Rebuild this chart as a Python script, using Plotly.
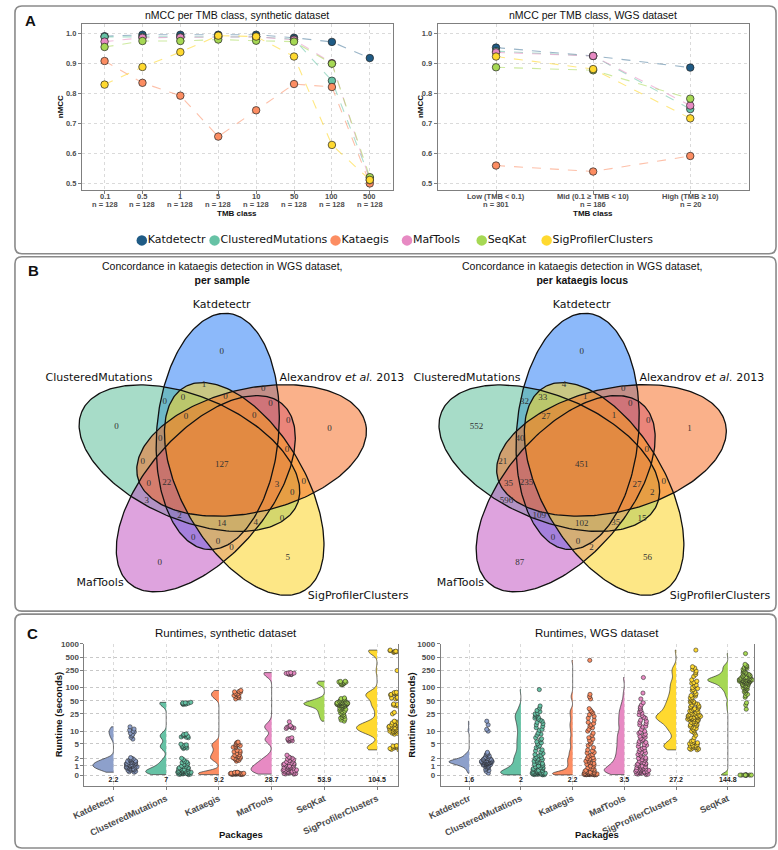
import numpy as np
import plotly.graph_objects as go

W, H = 778, 850

# ======================= DATA =======================
# ---- Panel A: nMCC per TMB class
tools = ["Katdetectr", "ClusteredMutations", "Kataegis", "MafTools", "SeqKat", "SigProfilerClusters"]

tmb_syn = ["0.1", "0.5", "1", "5", "10", "50", "100", "500"]
n_syn = [128, 128, 128, 128, 128, 128, 128, 128]
syn_katdetectr = [0.992, 0.997, 0.997, 0.997, 0.997, 0.987, 0.973, 0.919]
syn_clustered = [0.990, 0.990, 0.990, 0.990, 0.990, 0.982, 0.843, 0.517]
syn_kataegis = [0.909, 0.836, 0.793, 0.656, 0.744, 0.832, 0.822, 0.499]
syn_maftools = [0.974, 0.987, 0.988, 0.990, 0.990, 0.980, 0.902, 0.510]
syn_seqkat = [0.956, 0.976, 0.976, 0.981, 0.977, 0.974, 0.900, 0.520]
syn_sigprofiler = [0.830, 0.889, 0.939, 0.994, 0.991, 0.924, 0.628, 0.511]

tmb_wgs = ["Low (TMB < 0.1)", "Mid (0.1 \u2265 TMB < 10)", "High (TMB \u2265 10)"]
n_wgs = [301, 186, 20]
wgs_katdetectr = [0.954, 0.926, 0.887]
wgs_clustered = [0.942, 0.926, 0.748]
wgs_kataegis = [0.559, 0.539, 0.591]
wgs_maftools = [0.938, 0.926, 0.760]
wgs_seqkat = [0.888, 0.878, 0.783]
wgs_sigprofiler = [0.924, 0.882, 0.717]

# ---- Panel B: Venn diagrams (counts listed region by region)
venn_sets = ["Katdetectr", "Alexandrov <i>et al.</i> 2013", "SigProfilerClusters", "MafTools", "ClusteredMutations"]
venn_counts_sample = [0, 0, 0, 0, 5, 1, 0, 0, 0, 0, 0, 0, 0, 0, 0, 0, 0, 127, 0, 22,
                      3, 0, 0, 3, 2, 14, 4, 0, 0, 0, 0]
venn_counts_locus = [0, 552, 1, 87, 56, 4, 0, 32, 33, 1, 0, 27, 1, 0, 40, 0, 21, 451, 35, 235,
                     27, 0, 2, 596, 109, 102, 35, 15, 0, 0, 2]

# ---- Panel C: runtimes (seconds)
syn_packages = ["Katdetectr", "ClusteredMutations", "Kataegis", "MafTools", "SeqKat", "SigProfilerClusters"]
syn_means = [2.2, 7, 9.2, 28.7, 53.9, 104.5]
rt_syn_katdetectr = [0.3, 0.4, 0.5, 0.5, 0.6, 0.7, 0.7, 0.8, 0.8, 0.9, 0.9, 1.0, 1.0, 1.0, 1.1, 1.1, 1.2,
                     1.2, 1.3, 1.3, 1.4, 1.5, 1.5, 1.6, 1.7, 1.8, 1.9, 2.0, 2.1, 0.6, 0.9, 1.1, 1.4,
                     0.35, 0.55, 0.65, 0.75, 0.85, 0.95, 1.05, 1.15, 1.25, 1.35, 1.45, 1.55, 1.65, 1.75,
                     1.85, 6.5, 7.2, 7.8, 8.4, 9.0, 9.6, 10.0, 10.6, 11.2, 12.6]
rt_syn_clustered = [0.05, 0.1, 0.1, 0.15, 0.2, 0.2, 0.25, 0.3, 0.3, 0.35, 0.4, 0.45, 0.5, 0.5, 0.6, 0.7,
                    0.8, 0.9, 1.0, 1.1, 1.3, 1.5, 1.8, 2.0, 0.2, 0.4, 0.6, 0.3, 0.8, 1.2, 0.08, 0.12,
                    0.18, 0.22, 0.28, 0.33, 0.38, 0.42, 0.55, 0.65, 0.75, 0.95, 1.4, 1.6,
                    3.8, 3.9, 4.0, 4.2, 4.3, 4.4, 4.6, 4.7, 4.9, 7.0, 7.2, 7.3, 7.6, 7.8, 8.0, 8.3, 8.4,
                    8.6, 41, 42, 42.5, 43, 43.5, 44, 44.5, 45, 46]
rt_syn_kataegis = [0.05, 0.08, 0.1, 0.1, 0.12, 0.15, 0.15, 0.18, 0.2, 0.2, 0.22, 0.25, 0.3, 0.1, 0.15, 0.2,
                   0.06, 0.09, 0.11, 0.13, 0.16, 0.19, 0.21, 0.24, 0.27,
                   1.6, 1.7, 1.8, 1.95, 2.0, 2.1, 2.3, 2.4, 2.5, 2.6, 2.8, 3.0, 3.1, 3.3, 3.4, 1.9, 2.2,
                   4.0, 4.1, 4.3, 4.6, 4.8, 4.9, 5.2, 5.4, 5.5, 4.5,
                   55, 58, 60, 63, 65, 66, 70, 72, 74, 78, 80, 82, 86]
rt_syn_maftools = [0.1, 0.15, 0.2, 0.3, 0.3, 0.4, 0.5, 0.5, 0.6, 0.7, 0.8, 0.9, 1.0, 1.0, 1.1, 1.2, 1.4,
                   1.5, 1.6, 1.8, 2.0, 2.2, 2.5, 0.4, 0.8, 1.3, 0.2, 0.6, 0.12, 0.18, 0.25, 0.35, 0.45,
                   0.55, 0.65, 0.75, 0.85, 0.95, 1.15, 1.25, 1.35, 1.7, 1.9, 2.1,
                   5.8, 5.9, 6.1, 6.3, 6.4, 6.6, 6.7, 7.0, 11.5, 11.8, 12.0, 12.3, 12.5, 12.8, 13.0, 13.5,
                   16.5, 198, 200, 203, 206, 208, 212, 214, 216, 220]
rt_syn_seqkat = [17, 19, 21, 23, 25, 27, 28, 30, 32, 33, 35, 36, 37, 38, 39, 40, 41, 42, 42, 43, 43, 44,
                 44, 45, 46, 47, 48, 50, 52, 54, 56, 58, 40, 41, 43, 45, 18, 20, 22, 24, 26, 29, 31, 34,
                 38, 39, 40, 41, 42, 43, 44, 45, 46, 49, 51, 53, 55,
                 115, 118, 120, 122, 125, 128, 130, 133, 135, 138, 140]
rt_syn_sigprofiler = [3.5, 3.6, 3.7, 3.8, 3.9, 4.0, 4.1, 4.2, 4.3, 4.4, 4.5, 8.5, 8.8, 9.0, 9.2, 9.5, 9.8,
                      10, 10.2, 10.5, 10.8, 11, 11.2, 11.5, 11.8, 12, 12.2, 12.5, 12.8, 13, 13.2, 13.5,
                      13.8, 14, 14.5, 15, 15.5, 16, 16.5, 17, 10, 12, 14, 25, 27, 38, 39, 40, 41, 42,
                      55, 57, 58, 59, 60, 68, 69, 70, 71, 72, 74, 75, 77, 78,
                      245, 640, 650, 660, 670, 680, 690, 700, 710, 720]

wgs_packages = ["Katdetectr", "ClusteredMutations", "Kataegis", "MafTools", "SigProfilerClusters", "SeqKat"]
wgs_means = [1.6, 2, 2.2, 3.5, 27.2, 144.8]
rt_wgs_katdetectr = [0.2, 0.4, 0.6, 0.7, 0.8, 0.9, 1.0, 1.0, 1.1, 1.1, 1.2, 1.2, 1.3, 1.3, 1.3, 1.4, 1.4,
                     1.4, 1.5, 1.5, 1.5, 1.5, 1.5, 1.6, 1.6, 1.6, 1.6, 1.7, 1.7, 1.7, 1.8, 1.8, 1.9, 1.9,
                     2.0, 2.0, 2.1, 2.2, 2.3, 2.4, 2.5, 2.7, 3.0, 1.45, 1.55, 1.65, 1.35,
                     1.0, 1.1, 1.2, 1.3, 1.4, 1.5, 1.6, 1.7, 1.8, 1.9, 2.0, 2.2, 1.25, 1.35, 1.45, 1.55,
                     1.65, 1.75, 0.5, 0.85, 1.15, 2.6, 2.8, 10, 11, 14, 17]
rt_wgs_clustered = [0.02, 0.05, 0.08, 0.1, 0.1, 0.12, 0.15, 0.15, 0.2, 0.2, 0.25, 0.3, 0.3, 0.35, 0.4,
                    0.45, 0.5, 0.6, 0.7, 0.8, 0.9, 1.0, 1.1, 1.2, 1.4, 1.6, 1.8, 2.0, 2.2, 2.5, 2.8, 3.1,
                    3.5, 4.0, 4.5, 5.0, 5.6, 6.3, 7.0, 8.0, 9.0, 10.5, 12, 14, 16, 18, 20, 22, 24, 26,
                    30, 34, 38, 0.1, 0.2, 0.3, 0.5, 0.8, 1.5, 2.4,
                    0.05, 0.1, 0.15, 0.2, 0.3, 0.4, 0.6, 0.9, 1.3, 1.7, 2.1, 2.6, 3.3, 4.2, 5.3, 6.6,
                    8.5, 11, 13, 15, 17, 19, 21, 23, 25, 28, 0.25, 0.7, 1.0, 1.9, 90]
rt_wgs_kataegis = [0.02, 0.03, 0.05, 0.05, 0.07, 0.08, 0.1, 0.1, 0.1, 0.12, 0.12, 0.15, 0.15, 0.18, 0.2,
                   0.2, 0.25, 0.3, 0.35, 0.4, 0.5, 0.6, 0.7, 0.8, 1.0, 1.2, 1.4, 1.6, 1.8, 2.0, 2.3, 2.6,
                   3.0, 3.5, 4.0, 5.0, 6.0, 7.0, 8.0, 10, 12, 14, 16, 20, 24, 28, 33, 0.05, 0.1, 0.15,
                   0.2, 0.03, 0.06, 0.1, 0.14, 0.2, 0.28, 0.45, 0.65, 0.9, 1.1, 1.3, 1.5, 1.7, 1.9, 2.1,
                   2.5, 2.9, 3.3, 4.5, 5.5, 6.5, 9, 11, 13, 15, 18, 22, 26, 30, 55, 62, 70, 420]
rt_wgs_maftools = [0.05, 0.1, 0.15, 0.2, 0.25, 0.3, 0.35, 0.4, 0.45, 0.5, 0.55, 0.6, 0.7, 0.8, 0.9, 1.0,
                   1.1, 1.2, 1.3, 1.5, 1.7, 1.9, 2.1, 2.4, 2.7, 3.0, 3.4, 3.8, 4.3, 4.8, 5.4, 6.0, 6.8,
                   7.6, 8.5, 9.5, 11, 12.5, 14, 16, 18, 21, 24, 28, 33, 40, 45, 0.2, 0.4, 0.6, 0.9, 1.4,
                   2.0, 3.2, 0.1, 0.2, 0.3, 0.4, 0.5, 0.65, 0.75, 0.85, 1.05, 1.25, 1.6, 1.8, 2.2, 2.6,
                   2.9, 3.6, 4.0, 4.6, 5.1, 5.7, 6.4, 7.2, 8.0, 9.0, 10, 13, 15, 17, 20, 23, 26, 30, 36,
                   55, 75, 170]
rt_wgs_sigprofiler = [3.5, 3.7, 3.9, 4.1, 4.3, 4.5, 4.8, 5.1, 5.5, 6.0, 7, 8, 9, 10, 11, 12, 13, 14, 15,
                      16, 17, 18, 19, 20, 20, 21, 22, 23, 24, 25, 26, 27, 28, 30, 32, 34, 36, 38, 40, 43,
                      46, 50, 55, 60, 66, 72, 80, 90, 100, 115, 130, 150, 180, 220, 260, 300,
                      18, 20, 22, 24, 19, 21, 3.6, 3.8, 4.0, 4.2, 4.4, 4.6, 5.0, 5.3, 5.8, 9.5, 10.5,
                      11.5, 12.5, 13.5, 14.5, 15.5, 16.5, 17.5, 18.5, 19.5, 20.5, 21.5, 22.5, 23.5, 25,
                      27, 29, 31, 33, 35, 37, 42, 45, 48, 52, 58, 64, 70, 85, 95, 110, 125, 140, 200,
                      240, 280, 720]
rt_wgs_seqkat = [0, 0, 0, 0, 0, 0, 0, 0, 0, 0, 32, 40, 45, 60, 70, 80, 88, 95, 100, 105, 110, 115, 120,
                 125, 130, 135, 138, 140, 142, 145, 148, 150, 152, 155, 158, 160, 162, 165, 170, 175, 180,
                 185, 190, 200, 210, 220, 235, 250, 270, 290, 310, 140, 145, 150, 155, 160, 130, 135,
                 65, 75, 85, 92, 98, 102, 108, 112, 118, 122, 128, 132, 137, 141, 143, 147, 149, 151,
                 153, 157, 163, 168, 172, 178, 183, 195, 205, 215, 230, 260, 280, 300, 320, 340, 600]
runtime_ticks = [0, 1, 2, 5, 10, 25, 50, 100, 250, 500, 1000]

# ======================= STYLE =======================
def fx(p):
    return p / W


def fy(p):
    return 1 - p / H


SANS = "Liberation Sans, Arial, sans-serif"
VSANS = "DejaVu Sans, Verdana, sans-serif"
SERIF = "Liberation Serif, Times New Roman, serif"
GRID = "#DADADA"
FRAME = "#7F7F7F"
TICKC = "#4D4D4D"

col_a = ["#1F5B85", "#66C2A5", "#FC8D62", "#E78AC3", "#A6D854", "#FFD92F"]
line_a = ["rgba(31,91,133,0.45)", "rgba(102,194,165,0.55)", "rgba(252,141,98,0.55)",
          "rgba(231,138,195,0.55)", "rgba(166,216,84,0.55)", "rgba(255,217,47,0.6)"]
set2 = {"Katdetectr": "#8DA0CB", "ClusteredMutations": "#66C2A5", "Kataegis": "#FC8D62",
        "MafTools": "#E78AC3", "SeqKat": "#A6D854", "SigProfilerClusters": "#FFD92F"}
legend_marker_x = [131, 205, 328, 400.7, 476.7, 542.7]
legend_y = 237.5

fig = go.Figure()

# ---------------- Panel A traces ----------------
syn_series = [syn_katdetectr, syn_clustered, syn_kataegis, syn_maftools, syn_seqkat, syn_sigprofiler]
wgs_series = [wgs_katdetectr, wgs_clustered, wgs_kataegis, wgs_maftools, wgs_seqkat, wgs_sigprofiler]
xs_syn = list(range(1, len(tmb_syn) + 1))
xs_wgs = list(range(1, len(tmb_wgs) + 1))
for (xa, ya), xs, series in [(("x", "y"), xs_syn, syn_series), (("x2", "y2"), xs_wgs, wgs_series)]:
    for i, vals in enumerate(series):
        fig.add_trace(go.Scatter(x=xs, y=vals, mode="lines", xaxis=xa, yaxis=ya,
                                 line=dict(color=line_a[i], width=1.1, dash="dash"),
                                 showlegend=False, hoverinfo="skip"))
    for i, vals in enumerate(series):
        fig.add_trace(go.Scatter(x=xs, y=vals, mode="markers", xaxis=xa, yaxis=ya, name=tools[i],
                                 marker=dict(color=col_a[i], size=7.5, line=dict(color="#222", width=0.7)),
                                 showlegend=False))

# custom legend on the page-pixel axes (x3/y3)
fig.add_trace(go.Scatter(x=legend_marker_x, y=[legend_y] * len(tools), mode="markers",
                         marker=dict(color=col_a, size=10.5), xaxis="x3", yaxis="y3",
                         showlegend=False, hoverinfo="skip"))
fig.add_trace(go.Scatter(x=[v + 6 for v in legend_marker_x], y=[legend_y] * len(tools), text=tools,
                         mode="text", textposition="middle right",
                         textfont=dict(family=VSANS, size=11, color="#111"), xaxis="x3", yaxis="y3",
                         showlegend=False, hoverinfo="skip"))

# ---------------- Panel B traces ----------------
VA, VB, VD, VTHETA, VPHI = 119.0, 62.0, 33.5, 97.0, 85.0
venn_rot = [0, -72, -144, -216, -288]
venn_fill = ["rgba(25,115,245,0.5)", "rgba(245,105,30,0.52)", "rgba(252,212,35,0.55)",
             "rgba(190,72,190,0.5)", "rgba(80,185,145,0.5)"]
draw_order = [0, 4, 3, 2, 1]
venn_centers = [(212.3, 462.7), (578.3, 462.7)]
venn_label_offsets = [(0, -113.7), (-107, -37.7), (109.7, -36), (-63, 99), (67, 94), (-18, -80.4),
                      (42.3, -76), (-58, -62.7), (-39.5, -67), (3.8, -68.4), (49.5, -61), (-36.3, -48.4),
                      (33, -49.4), (67.7, -44.4), (-62.6, -25.4), (66.3, -14.4), (-80.3, -2.7), (0, 0),
                      (-74.3, 19), (-56, 18), (56.3, 20.6), (83.4, 17), (71.7, 28), (-76.3, 36),
                      (-43, 51), (0, 60), (34.7, 59), (61.3, 54), (-29, 74), (-3.7, 77.3), (10, 84)]
venn_name_pos = [
    [(212.3, 302.7), (334.5, 376.5), (351, 595), (88.5, 581.7), (87.5, 376.5)],
    [(578.3, 302.7), (700.5, 376.5), (719, 595), (455, 581.7), (461.7, 376.5)],
]
venn_titles = ["Concordance in kataegis detection in WGS dataset,<br><b>per sample</b>",
               "Concordance in kataegis detection in WGS dataset,<br><b>per kataegis locus</b>"]


def ellipse(cx, cy, a, b, phi_deg, n=240):
    t = np.linspace(0, 2 * np.pi, n)
    p = np.deg2rad(phi_deg)
    x = cx + a * np.cos(t) * np.cos(p) - b * np.sin(t) * np.sin(p)
    y = cy - (a * np.cos(t) * np.sin(p) + b * np.sin(t) * np.cos(p))
    return x, y


for vi, (ox, oy) in enumerate(venn_centers):
    shapes_xy = []
    for k in range(5):
        th = np.deg2rad(VTHETA + venn_rot[k])
        cx, cy = ox + VD * np.cos(th), oy - VD * np.sin(th)
        shapes_xy.append(ellipse(cx, cy, VA, VB, VPHI + venn_rot[k]))
    for k in draw_order:
        ex, ey = shapes_xy[k]
        fig.add_trace(go.Scatter(x=ex, y=ey, mode="lines", fill="toself", fillcolor=venn_fill[k],
                                 line=dict(width=0), xaxis="x3", yaxis="y3", showlegend=False,
                                 hoverinfo="skip"))
    for k in range(5):
        ex, ey = shapes_xy[k]
        fig.add_trace(go.Scatter(x=ex, y=ey, mode="lines", line=dict(color="#111", width=1.3),
                                 xaxis="x3", yaxis="y3", showlegend=False, hoverinfo="skip"))
    counts = venn_counts_sample if vi == 0 else venn_counts_locus
    fig.add_trace(go.Scatter(x=[ox + dx for dx, dy in venn_label_offsets],
                             y=[oy + dy for dx, dy in venn_label_offsets],
                             text=[str(c) for c in counts], mode="text", textposition="middle center",
                             textfont=dict(family=SERIF, size=9, color="#333"),
                             xaxis="x3", yaxis="y3", showlegend=False, hoverinfo="skip"))
    npos = venn_name_pos[vi]
    fig.add_trace(go.Scatter(x=[p[0] for p in npos], y=[p[1] for p in npos], text=venn_sets,
                             mode="text", textposition="middle center",
                             textfont=dict(family=VSANS, size=11, color="#111"),
                             xaxis="x3", yaxis="y3", showlegend=False, hoverinfo="skip"))


# ---------------- Panel C traces ----------------
def pl(v):
    return np.arcsinh(np.asarray(v, dtype=float) / 2.0) / np.log(10)


syn_rt = [rt_syn_katdetectr, rt_syn_clustered, rt_syn_kataegis, rt_syn_maftools, rt_syn_seqkat,
          rt_syn_sigprofiler]
wgs_rt = [rt_wgs_katdetectr, rt_wgs_clustered, rt_wgs_kataegis, rt_wgs_maftools, rt_wgs_sigprofiler,
          rt_wgs_seqkat]
syn_bw = [0.06, 0.07, 0.06, 0.08, 0.05, 0.08]
wgs_bw = [0.04, 0.07, 0.05, 0.08, 0.08, 0.05]

for (xa, ya), pkgs, rts, bws, means in [(("x4", "y4"), syn_packages, syn_rt, syn_bw, syn_means),
                                         (("x5", "y5"), wgs_packages, wgs_rt, wgs_bw, wgs_means)]:
    for i, name in enumerate(pkgs):
        vals = rts[i]
        c = set2[name]
        fig.add_trace(go.Violin(x=[name] * len(vals), y=pl(vals), xaxis=xa, yaxis=ya, side="negative",
                                width=0.78, points="all", pointpos=0.9, jitter=0.35, spanmode="hard",
                                bandwidth=bws[i], scalemode="width", fillcolor=c,
                                line=dict(color="#333", width=0.7),
                                marker=dict(color=c, size=4.2, line=dict(color="#222", width=0.55)),
                                showlegend=False, hoverinfo="skip"))
    fig.add_trace(go.Scatter(x=pkgs, y=[-0.125] * len(pkgs), text=["{:g}".format(m) for m in means],
                             mode="text", textposition="middle center", xaxis=xa, yaxis=ya,
                             textfont=dict(family=SANS, size=7, color="#222", weight="bold"),
                             showlegend=False, hoverinfo="skip"))

# ======================= LAYOUT =======================
tickfont_a = dict(family=SANS, size=7.5, color=TICKC, weight="bold")
common_a = dict(showline=True, mirror=True, linecolor=FRAME, linewidth=1, showgrid=True,
                gridcolor=GRID, griddash="dot", zeroline=False, ticks="outside", ticklen=3,
                tickcolor=FRAME, tickfont=tickfont_a)
ya_common = dict(common_a, range=[0.4767, 1.0333], tickvals=[0.5, 0.6, 0.7, 0.8, 0.9, 1.0],
                 ticktext=["0.5", "0.6", "0.7", "0.8", "0.9", "1.0"])

ytv = list(pl(runtime_ticks))
tickfont_c = dict(family=SANS, size=8, color=TICKC, weight="bold")
common_cx = dict(type="category", range=[-0.55, 5.4], showline=True, linecolor=FRAME, linewidth=1,
                 showgrid=True, gridcolor=GRID, griddash="dot", ticks="outside", ticklen=3,
                 tickcolor=FRAME, tickangle=-25, tickfont=dict(family=SANS, size=9, color=TICKC,
                                                               weight="bold"))
common_cy = dict(range=[-0.25, 3.004], tickvals=ytv, ticktext=[str(v) for v in runtime_ticks],
                 showline=True, mirror=True, linecolor=FRAME, linewidth=1, showgrid=True,
                 gridcolor="#C8C8C8", griddash="dot", zeroline=False, ticks="outside", ticklen=3,
                 tickcolor=FRAME, tickfont=tickfont_c)


def rr_path(x0, y0, x1, y1, r):
    def P(x, y):
        return "{:.5f},{:.5f}".format(x / W, 1 - y / H)
    return ("M {} L {} Q {} {} L {} Q {} {} L {} Q {} {} L {} Q {} {} Z".format(
        P(x0 + r, y0), P(x1 - r, y0), P(x1, y0), P(x1, y0 + r), P(x1, y1 - r), P(x1, y1),
        P(x1 - r, y1), P(x0 + r, y1), P(x0, y1), P(x0, y1 - r), P(x0, y0 + r), P(x0, y0),
        P(x0 + r, y0)))


shapes = [dict(type="path", xref="paper", yref="paper", path=rr_path(*b, 7),
               line=dict(color="#8A8A8A", width=1.6), fillcolor="rgba(0,0,0,0)", layer="below")
          for b in [(2, 2, 776, 251), (2, 254, 776, 610), (2, 613, 776, 848)]]


def ann(text, x, y, size, family=SANS, bold=False, angle=0, color="#111", xanchor="center", xref="paper"):
    return dict(text=text, x=fx(x) if xref == "paper" else x, y=fy(y), xref=xref, yref="paper",
                showarrow=False, xanchor=xanchor, yanchor="middle", textangle=angle,
                font=dict(family=family, size=size, color=color, weight="bold" if bold else "normal"))


annotations = [
    ann("A", 18, 17, 15, bold=True), ann("B", 20.5, 267.5, 15, bold=True), ann("C", 20, 632, 15, bold=True),
    ann("nMCC per TMB class, synthetic dataset", 228, 11.5, 10.5),
    ann("nMCC per TMB class, WGS dataset", 590, 11.5, 10.5),
    ann("TMB class", 228, 210.5, 8, bold=True), ann("TMB class", 590, 210.5, 8, bold=True),
    ann("nMCC", 48, 103.5, 8, bold=True, angle=-90), ann("nMCC", 414, 103.5, 8, bold=True, angle=-90),
    ann(venn_titles[0], 212.3, 270, 10.5), ann(venn_titles[1], 578.3, 270, 10.5),
    ann("Runtimes, synthetic dataset", 216.5, 631.5, 11.5),
    ann("Runtimes, WGS dataset", 594, 632, 11.5),
    ann("Runtime (seconds)", 46.5, 714, 9.5, bold=True, angle=-90),
    ann("Runtime (seconds)", 405, 714, 9.5, bold=True, angle=-90),
    ann("Packages", 232, 834, 9.5, bold=True), ann("Packages", 594, 834, 9.5, bold=True),
]
# two-row category labels of panel A, placed on the category axes
for xr, xs, cats, ns in [("x", xs_syn, tmb_syn, n_syn), ("x2", xs_wgs, tmb_wgs, n_wgs)]:
    for xv, c, n in zip(xs, cats, ns):
        annotations.append(ann(c, xv, 193, 7.5, bold=True, color=TICKC, xref=xr))
        annotations.append(ann("n = {}".format(n), xv, 201, 7.5, bold=True, color=TICKC, xref=xr))

fig.update_layout(
    width=W, height=H, autosize=False, margin=dict(l=0, r=0, t=0, b=0, pad=0),
    paper_bgcolor="white", plot_bgcolor="rgba(0,0,0,0)",
    violinmode="overlay", violingap=0, violingroupgap=0,
    xaxis=dict(common_a, domain=[fx(70), fx(386)], range=[0.4, 8.6], tickvals=xs_syn,
               showticklabels=False, anchor="y"),
    yaxis=dict(ya_common, domain=[fy(187), fy(20)], anchor="x"),
    xaxis2=dict(common_a, domain=[fx(432), fx(748)], range=[0.4, 3.6], tickvals=xs_wgs,
                showticklabels=False, anchor="y2"),
    yaxis2=dict(ya_common, domain=[fy(187), fy(20)], anchor="x2"),
    xaxis3=dict(domain=[0, 1], range=[0, W], visible=False, anchor="y3", fixedrange=True),
    yaxis3=dict(domain=[0, 1], range=[H, 0], visible=False, anchor="x3", fixedrange=True),
    xaxis4=dict(common_cx, domain=[fx(72.7), fx(391.7)], anchor="y4",
                categoryorder="array", categoryarray=syn_packages),
    yaxis4=dict(common_cy, domain=[fy(785.7), fy(642.7)], anchor="x4"),
    xaxis5=dict(common_cx, domain=[fx(435), fx(753.3)], anchor="y5", range=[-0.55, 5.5],
                categoryorder="array", categoryarray=wgs_packages),
    yaxis5=dict(common_cy, domain=[fy(785.7), fy(642.7)], anchor="x5"),
    showlegend=False,
    shapes=shapes, annotations=annotations,
)

page_fix = ("var s=document.documentElement.style;s.margin='0';s.padding='0';s.overflow='hidden';"
            "var b=document.body.style;b.margin='0';b.padding='0';b.overflow='hidden';")
fig.write_html("out.html", config={"displayModeBar": False}, post_script=page_fix)
